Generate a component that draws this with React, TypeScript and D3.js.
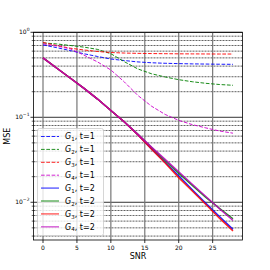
import React from "react";
import * as d3 from "d3";

const snr = [0, 2, 4, 6, 8, 10, 12, 14, 16, 18, 20, 22, 24, 26, 28];

// t=1 (dashed)
const g1t1 = [0.71, 0.66, 0.61, 0.56, 0.52, 0.485, 0.465, 0.448, 0.438, 0.432, 0.428, 0.425, 0.423, 0.421, 0.42];
const g2t1 = [0.75, 0.73, 0.7, 0.67, 0.63, 0.56, 0.45, 0.37, 0.325, 0.298, 0.277, 0.262, 0.251, 0.243, 0.238];
const g3t1 = [0.76, 0.7, 0.65, 0.62, 0.595, 0.578, 0.57, 0.565, 0.562, 0.56, 0.558, 0.557, 0.556, 0.555, 0.555];
const g4t1 = [0.73, 0.69, 0.64, 0.54, 0.45, 0.36, 0.26, 0.18, 0.135, 0.108, 0.092, 0.082, 0.075, 0.069, 0.065];

// t=2 (solid)
const g1t2 = [0.5, 0.38, 0.29, 0.22, 0.165, 0.12, 0.088, 0.062, 0.0425, 0.0295, 0.0205, 0.014, 0.0097, 0.0068, 0.0048];
const g2t2 = [0.5, 0.38, 0.29, 0.22, 0.165, 0.12, 0.088, 0.063, 0.044, 0.031, 0.022, 0.0158, 0.0114, 0.0085, 0.0064];
const g3t2 = [0.5, 0.38, 0.29, 0.22, 0.165, 0.12, 0.088, 0.062, 0.042, 0.029, 0.0195, 0.0136, 0.0094, 0.0065, 0.0046];
const g4t2 = [0.5, 0.38, 0.29, 0.22, 0.165, 0.12, 0.088, 0.063, 0.0445, 0.032, 0.0229, 0.0163, 0.0117, 0.0084, 0.0061];

const xTicks = [0, 5, 10, 15, 20, 25];
const yMajor = [0, -1, -2];

const series = [
  { g: "1", t: "1", vals: g1t1, color: "#0000ff", dashed: true },
  { g: "2", t: "1", vals: g2t1, color: "#008000", dashed: true },
  { g: "3", t: "1", vals: g3t1, color: "#ff0000", dashed: true },
  { g: "4", t: "1", vals: g4t1, color: "#cc00cc", dashed: true },
  { g: "1", t: "2", vals: g1t2, color: "#0000ff", dashed: false },
  { g: "2", t: "2", vals: g2t2, color: "#008000", dashed: false },
  { g: "3", t: "2", vals: g3t2, color: "#ff0000", dashed: false },
  { g: "4", t: "2", vals: g4t2, color: "#bf00bf", dashed: false },
];

const L = 33.5, R = 242.5, T = 32.3, B = 240;

export default function App() {
  const x = d3.scaleLinear().domain([-1.4, 29.4]).range([L, R]);
  const y = d3.scaleLog().domain([Math.pow(10, -2.444), 1]).range([B, T]);

  const line = d3.line<number>()
    .x((_, i) => x(snr[i]))
    .y(d => y(d));

  const minors: number[] = [];
  for (let e = -3; e <= 0; e++) {
    for (let m = 2; m <= 9; m++) {
      const v = m * Math.pow(10, e);
      if (v > y.domain()[0] && v < 1) minors.push(v);
    }
  }

  const legX = 37.5, legY = 128.5, legW = 66, legH = 107;

  return (
    <svg width={270} height={270} style={{ position: "absolute", left: 0, top: 0 }}
      fontFamily="DejaVu Sans, sans-serif">
      <rect width={270} height={270} fill="#fff" />
      <defs>
        <clipPath id="plot">
          <rect x={L} y={T} width={R - L} height={B - T} />
        </clipPath>
      </defs>
      {/* grid */}
      {minors.map((v, i) => (
        <line key={"mn" + i} x1={L} x2={R} y1={y(v)} y2={y(v)}
          stroke="#222" strokeWidth={0.8} strokeDasharray="2,1" opacity={0.9} />
      ))}
      {yMajor.map(e => (
        <line key={"mj" + e} x1={L} x2={R} y1={y(Math.pow(10, e))} y2={y(Math.pow(10, e))}
          stroke="#333" strokeWidth={1} />
      ))}
      {xTicks.map(t => (
        <line key={"xg" + t} x1={x(t)} x2={x(t)} y1={T} y2={B} stroke="#777" strokeWidth={1.2} />
      ))}
      {/* lines */}
      <g clipPath="url(#plot)">
        {series.map((s, i) => (
          <path key={i} d={line(s.vals) || ""} fill="none" stroke={s.color}
            strokeWidth={s.dashed ? 1 : 1.5}
            strokeDasharray={s.dashed ? "3.7,1.6" : undefined}
            opacity={s.dashed ? 0.9 : 0.85} />
        ))}
      </g>
      {/* frame */}
      <rect x={L} y={T} width={R - L} height={B - T} fill="none" stroke="#000" strokeWidth={0.8} />
      {/* x ticks */}
      {xTicks.map(t => (
        <g key={"xt" + t}>
          <line x1={x(t)} x2={x(t)} y1={B} y2={B + 3} stroke="#000" strokeWidth={0.8} />
          <text x={x(t)} y={B + 9.5} fontSize={6} textAnchor="middle">{t}</text>
        </g>
      ))}
      {/* y ticks */}
      {yMajor.map(e => (
        <g key={"yt" + e}>
          <line x1={L - 3} x2={L} y1={y(Math.pow(10, e))} y2={y(Math.pow(10, e))} stroke="#000" strokeWidth={0.8} />
          <text x={L - 4} y={y(Math.pow(10, e)) + 2} fontSize={6} textAnchor="end">
            10<tspan dy={-3} fontSize={4.5}>{e === 0 ? "0" : "\u2212" + (-e)}</tspan>
          </text>
        </g>
      ))}
      {minors.map((v, i) => (
        <line key={"ym" + i} x1={L - 1.8} x2={L} y1={y(v)} y2={y(v)} stroke="#000" strokeWidth={0.6} />
      ))}
      <text x={(L + R) / 2} y={259} fontSize={8} textAnchor="middle">SNR</text>
      <text transform={`translate(10,${(T + B) / 2}) rotate(-90)`} fontSize={8} textAnchor="middle">MSE</text>
      {/* legend */}
      <rect x={legX} y={legY} width={legW} height={legH} rx={2} fill="#fff" fillOpacity={0.8}
        stroke="#ccc" strokeWidth={0.8} />
      {series.map((s, i) => {
        const ly = 136.5 + i * 12.9;
        return (
          <g key={"lg" + i}>
            <line x1={41} x2={59} y1={ly} y2={ly} stroke={s.color}
              strokeWidth={s.dashed ? 1 : 1.5}
              strokeDasharray={s.dashed ? "3.7,1.6" : undefined}
              opacity={s.dashed ? 0.85 : 0.6} />
            <text x={65} y={ly + 2.8} fontSize={8}>
              <tspan fontStyle="italic">G</tspan>
              <tspan dy={1.8} fontSize={5.5}>{s.g}</tspan>
              <tspan dy={-1.8}>, t={s.t}</tspan>
            </text>
          </g>
        );
      })}
    </svg>
  );
}
